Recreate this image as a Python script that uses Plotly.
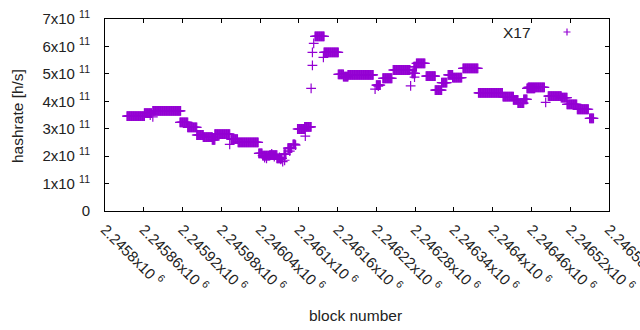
import numpy as np
import plotly.graph_objects as go

# ---- data ----
# constant-hashrate runs: first block, last block, hashrate [h/s]
seg_start = [2245834, 2245861, 2245874, 2245916, 2245928, 2245942, 2245952, 2245966, 2245970,
             2245995, 2246006, 2246038, 2246044, 2246055, 2246066, 2246077, 2246083, 2246091,
             2246098, 2246109, 2246125, 2246139, 2246161, 2246169, 2246176, 2246220,
             2246230, 2246246, 2246275, 2246278, 2246282, 2246297, 2246311, 2246321, 2246331,
             2246338, 2246354, 2246378, 2246416, 2246432, 2246439, 2246448, 2246453, 2246455,
             2246486, 2246506, 2246515, 2246531, 2246550]
seg_end = [2245861, 2245872, 2245917, 2245928, 2245942, 2245952, 2245966, 2245970, 2245993,
           2246005, 2246037, 2246043, 2246055, 2246066, 2246074, 2246080, 2246089, 2246094,
           2246109, 2246119, 2246139, 2246161, 2246169, 2246176, 2246215, 2246226,
           2246244, 2246272, 2246280, 2246282, 2246295, 2246311, 2246321, 2246329, 2246338,
           2246352, 2246377, 2246415, 2246432, 2246439, 2246448, 2246453, 2246465, 2246480,
           2246506, 2246515, 2246530, 2246548, 2246556]
seg_hashrate = [3.46e11, 3.57e11, 3.65e11, 3.23e11, 3.05e11, 2.77e11, 2.69e11, 2.59e11, 2.80e11,
                2.62e11, 2.50e11, 2.10e11, 2.02e11, 2.04e11, 1.92e11, 2.07e11, 2.29e11, 2.43e11,
                2.99e11, 3.07e11, 6.37e11, 5.78e11, 4.98e11, 4.90e11, 4.96e11, 4.59e11,
                4.84e11, 5.14e11, 5.02e11, 5.26e11, 5.38e11, 4.92e11, 4.41e11, 4.68e11, 4.96e11,
                4.86e11, 5.20e11, 4.31e11, 4.17e11, 4.05e11, 3.93e11, 4.07e11, 4.47e11, 4.51e11,
                4.19e11, 4.13e11, 3.89e11, 3.71e11, 3.38e11]

# isolated blocks
iso_block = [2245870, 2245874, 2245993, 2246047, 2246050, 2246058, 2246062, 2246070, 2246072,
             2246075, 2246078, 2246086, 2246095, 2246110, 2246119, 2246121, 2246121, 2246123,
             2246138, 2246218, 2246223, 2246273, 2246279, 2246482]
iso_hashrate = [3.50e11, 3.43e11, 2.43e11, 1.95e11, 1.92e11, 2.08e11, 1.98e11, 1.95e11, 1.88e11,
                1.80e11, 1.85e11, 2.18e11, 2.40e11, 2.73e11, 4.47e11, 5.31e11, 5.78e11, 6.11e11,
                5.60e11, 4.44e11, 4.55e11, 4.56e11, 4.88e11, 3.96e11]

x_ticks = [2245800 + 60 * k for k in range(14)]
x_tick_labels = ["2.2458", "2.24586", "2.24592", "2.24598", "2.24604", "2.2461", "2.24616",
                 "2.24622", "2.24628", "2.24634", "2.2464", "2.24646", "2.24652", "2.24658"]
y_ticks = [0, 1e11, 2e11, 3e11, 4e11, 5e11, 6e11, 7e11]
y_tick_labels = ["0"] + [f"{k}x10 <sup>11</sup>" for k in range(1, 8)]

# ---- build point list ----
xs, ys = [], []
for s, e, v in zip(seg_start, seg_end, seg_hashrate):
    for b in range(s, e + 1):
        xs.append(b)
        ys.append(v)
xs += iso_block
ys += iso_hashrate

PURPLE = "#9400D3"
FONT = "Liberation Sans, Arial, sans-serif"
TXT = "#222"

fig = go.Figure()
fig.add_trace(go.Scatter(
    x=xs, y=ys, mode="markers", name="X17", showlegend=False,
    marker=dict(symbol="cross-thin", size=7, color=PURPLE, line=dict(color=PURPLE, width=1.2)),
))

axis_common = dict(showline=True, linecolor="black", linewidth=1, mirror="ticks",
                   ticks="inside", ticklen=4, tickcolor="black", showgrid=False, zeroline=False,
                   ticklabeloverflow="allow", automargin=False,
                   tickfont=dict(family=FONT, size=15, color=TXT))

fig.update_xaxes(range=[2245800, 2246580], tickmode="array", tickvals=x_ticks,
                 ticktext=[t + "x10 <sup>6</sup>" for t in x_tick_labels], tickangle=45,
                 ticklabelstandoff=3, **axis_common)
fig.update_yaxes(range=[0, 7e11], tickmode="array", tickvals=y_ticks, ticktext=y_tick_labels,
                 ticklabelstandoff=11, **axis_common)

W, H = 640, 330
L, R, T, B = 105, 31, 19, 119
pw, ph = W - L - R, H - T - B

fig.update_layout(
    width=W, height=H, margin=dict(l=L, r=R, t=T, b=B, pad=0, autoexpand=False),
    plot_bgcolor="white", paper_bgcolor="white",
    font=dict(family=FONT, size=15, color=TXT),
    annotations=[
        dict(text="hashrate [h/s]", xref="paper", yref="paper", x=(18 - L) / pw, y=(211 - 116) / ph,
             xanchor="center", yanchor="middle",
             textangle=-90, showarrow=False, font=dict(size=15.5)),
        dict(text="block number", xref="paper", yref="paper", x=(355 - L) / pw, y=(211 - 315) / ph,
             xanchor="center", yanchor="middle", showarrow=False, font=dict(size=15.5)),
        dict(text="X17", xref="paper", yref="paper", x=(533 - L) / pw, y=(211 - 32) / ph,
             xanchor="right", yanchor="middle", showarrow=False, font=dict(size=15.5)),
    ],
    shapes=[
        dict(type="path", xref="paper", yref="paper", xsizemode="pixel", ysizemode="pixel",
             xanchor=(567 - L) / pw, yanchor=(211 - 32) / ph,
             path="M-3.5,0 L3.5,0 M0,-3.5 L0,3.5", line=dict(color=PURPLE, width=1.2)),
    ],
)

fig.write_html("out.html")
